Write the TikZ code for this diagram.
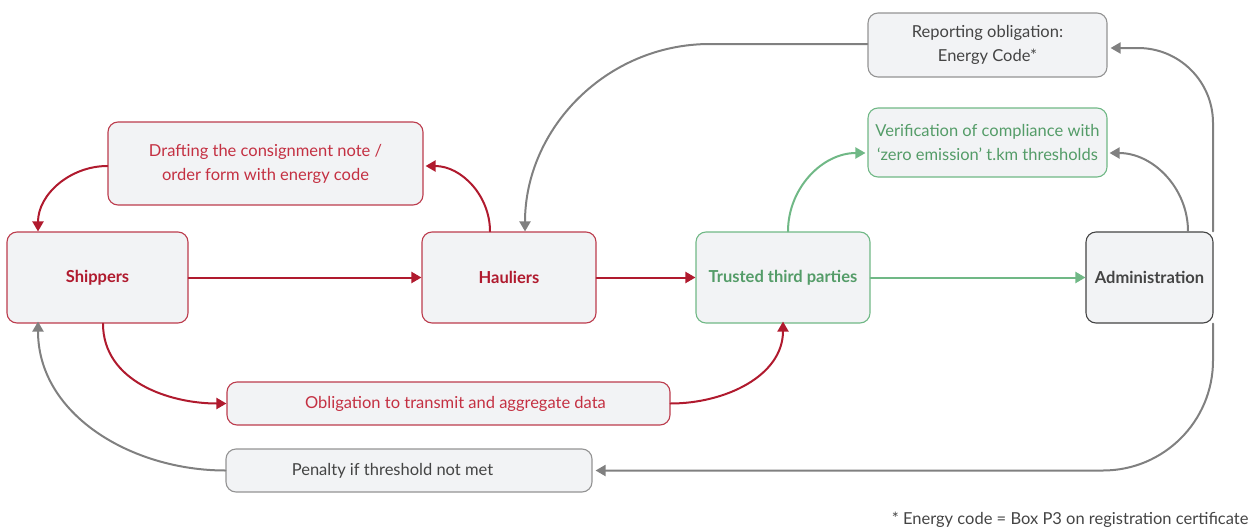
\documentclass[tikz,border=0pt]{standalone}
\usepackage{fontspec}
\setmainfont{Lato}
\usetikzlibrary{arrows.meta}

\definecolor{freightred}{RGB}{176,26,46}
\definecolor{freightredtext}{RGB}{196,48,66}
\definecolor{trustgreen}{RGB}{112,184,134}
\definecolor{trustgreentext}{RGB}{84,156,104}
\definecolor{flowgray}{RGB}{128,128,128}
\definecolor{boxfill}{RGB}{242,243,245}
\definecolor{inkgray}{RGB}{68,68,68}

\begin{document}
\begin{tikzpicture}[x=1pt,y=-1pt,line cap=round,line join=round,
    font=\fontsize{16.5}{24}\selectfont,
    box/.style={draw,fill=boxfill,rounded corners=10pt,line width=1.1pt,
        align=center,inner sep=0pt},
    redbox/.style={box,draw=freightred!85,text=freightredtext},
    greenbox/.style={box,draw=trustgreen,text=trustgreentext},
    graybox/.style={box,draw=flowgray!85,text=inkgray},
    actor/.style={font=\fontsize{16.5}{24}\selectfont\bfseries,
        minimum height=91pt},
    flow/.style={line width=2pt,-{Triangle[length=10pt,width=11pt]}},
    redflow/.style={flow,freightred},
    greenflow/.style={flow,trustgreen},
    grayflow/.style={flow,flowgray}]
        \useasboundingbox (0,0) rectangle (1255,530);

        %----------------------------------------------------------
        % Actores principales
        \node[redbox,actor,minimum width=181pt,text=freightred]
            (shippers) at (97.5,277.5) {Shippers};
        \node[redbox,actor,minimum width=174pt,text=freightred]
            (hauliers) at (509,277.5) {Hauliers};
        \node[greenbox,actor,minimum width=174pt]
            (trusted) at (783,277.5) {Trusted third parties};
        \node[graybox,actor,draw=inkgray,minimum width=127pt]
            (admin) at (1149.5,277.5) {Administration};

        %----------------------------------------------------------
        % Obligaciones y controles
        \node[redbox,minimum width=315pt,minimum height=83pt]
            (drafting) at (265.5,163.5)
            {Drafting the consignment note /\\order form with energy code};
        \node[graybox,minimum width=239pt,minimum height=64pt]
            (reporting) at (987.5,45) {Reporting obligation:\\Energy Code*};
        \node[greenbox,minimum width=239pt,minimum height=69pt]
            (verif) at (987.5,142.5)
            {Verification of compliance with\\`zero emission' t.km thresholds};
        \node[redbox,minimum width=443pt,minimum height=43pt]
            (transmit) at (448.5,403.5)
            {\hspace*{14pt}Obligation to transmit and aggregate data};
        \node[graybox,minimum width=366pt,minimum height=43pt]
            (penalty) at (409,470.5)
            {\hspace*{-33pt}Penalty if threshold not met};

        \node[anchor=base east,text=inkgray] (note) at (1252,524)
            {* Energy code = Box P3 on registration certificate};

        %----------------------------------------------------------
        % Flujos en rojo
        \draw[redflow] (drafting.west |- 0,166) to[out=180,in=90]
            (shippers.north -| 38,0);
        \draw[redflow] (hauliers.north -| 490,0) to[out=90,in=0]
            ([xshift=2pt]drafting.east |- 0,166);
        \draw[redflow] (shippers) -- (hauliers);
        \draw[redflow] (hauliers) -- (trusted);
        \draw[redflow] (shippers.south -| 103,0) to[out=-90,in=180]
            (transmit.west);
        \draw[redflow] (transmit.east) to[out=0,in=-90]
            ([yshift=2pt]trusted.south -| 783,0);

        % Flujos en verde
        \draw[greenflow] (trusted.north -| 788,0) to[out=90,in=180]
            ([xshift=-2pt]verif.west |- 0,153);
        \draw[greenflow] (trusted) -- (admin);

        % Flujos en gris
        \coordinate (repbend) at (710,44);
        \draw[grayflow] (reporting.west |- repbend) -- (repbend)
            to[out=180,in=90] (hauliers.north -| 525,0);
        \draw[grayflow] (admin.north -| 1188,0) to[out=90,in=0]
            ([xshift=2pt]verif.east |- 0,153);
        \draw[grayflow,rounded corners=75pt] (admin.north -| 1213,0)
            |- ([xshift=3pt]reporting.east |- 0,48);
        \draw[grayflow,rounded corners=110pt] (admin.south -| 1213,0)
            |- ([xshift=3pt]penalty.east);
        \draw[grayflow] (penalty.west) to[out=180,in=-90]
            ([yshift=2pt]shippers.south -| 38,0);
    \end{tikzpicture}
\end{document}
